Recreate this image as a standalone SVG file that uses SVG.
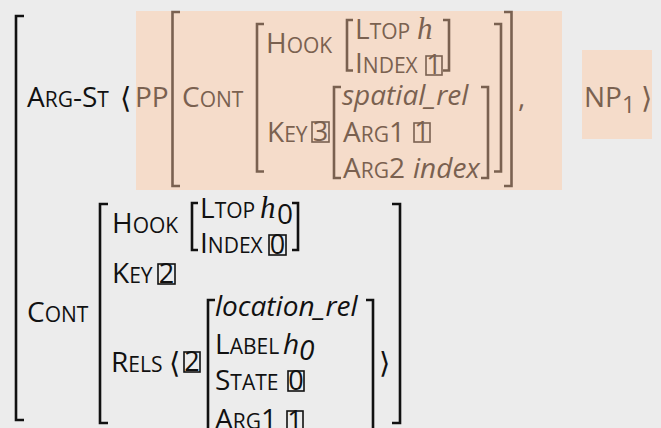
<svg xmlns="http://www.w3.org/2000/svg" width="661" height="428" viewBox="0 0 661 428">
<style>
text{font-family:"Open Sans","Noto Sans",sans-serif;font-size:28px}
.s{font-size:21px}
.it{font-style:italic}
.m{font-family:"Liberation Serif","DejaVu Serif",serif;font-style:italic;font-size:31px}
.ang{font-family:"DejaVu Sans",sans-serif;font-size:29px}
.br{fill:#7a6150}
.bk{fill:#111}
.bb{fill:none;stroke:#7a6150;stroke-width:2.6}
.kb{fill:none;stroke:#111;stroke-width:2.6}
.boxb{fill:none;stroke:#7a6150;stroke-width:1.6}
.boxk{fill:none;stroke:#111;stroke-width:1.6}
text.dg{font-size:27px;text-anchor:middle}
</style>
<rect width="661" height="428" fill="#ececec"/>
<rect x="136" y="11" width="426" height="179" fill="#f5dcca"/>
<rect x="582" y="50" width="70" height="89" fill="#f5dcca"/>

<!-- outer bracket -->
<path class="kb" d="M24,16H16V420H24"/>
<text class="bk" x="27" y="107">A<tspan class="s">RG</tspan>-S<tspan class="s">T</tspan></text>
<text class="ang bk" x="120" y="108">⟨</text>

<!-- top PP -->
<g id="pp">
<text class="br" x="135" y="107">PP</text>
<path class="bb" d="M180,12H172.5V186H180"/>
<path class="bb" d="M504,12H511.5V186H504"/>
<text class="br" x="182" y="107">C<tspan class="s">ONT</tspan></text>
<path class="bb" d="M264,24H257V171.5H264"/>
<path class="bb" d="M494,24H501V171.5H494"/>
<text class="br" x="266" y="53">H<tspan class="s">OOK</tspan></text>
<path class="bb" d="M353,20H347V70.5H353"/>
<path class="bb" d="M443,20H449V70.5H443"/>
<text class="br" x="355" y="39">L<tspan class="s">TOP</tspan></text>
<text class="m br" x="417" y="39">h</text>
<text class="br" x="355" y="73">I<tspan class="s">NDEX</tspan></text>
<rect class="boxb" x="426" y="56" width="16" height="19"/>
<text class="dg br" x="434" y="74">1</text>
<text class="br" x="267" y="142">K<tspan class="s">EY</tspan></text>
<rect class="boxb" x="312" y="122" width="17" height="20"/>
<text class="dg br" x="320.5" y="141">3</text>
<path class="bb" d="M341,87H334V178H341"/>
<path class="bb" d="M481,87H488V178H481"/>
<text class="it br" x="342" y="105">spatial_rel</text>
<text class="br" x="343" y="142">A<tspan class="s">RG</tspan>1</text>
<rect class="boxb" x="414" y="123" width="16" height="19"/>
<text class="dg br" x="422" y="141">1</text>
<text class="br" x="343" y="178">A<tspan class="s">RG</tspan>2</text>
<text class="it br" x="413" y="178">index</text>
<text class="br" x="518" y="107">,</text>
</g>

<g id="np">
<text class="br" x="584" y="107">NP<tspan font-size="23" dy="6">1</tspan></text>
<text class="ang br" x="641" y="108">⟩</text>
</g>

<!-- bottom CONT -->
<g id="cont">
<text class="bk" x="27" y="322">C<tspan class="s">ONT</tspan></text>
<path class="kb" d="M108,204H100V423H108"/>
<path class="kb" d="M392,204H400V423H392"/>
<text class="bk" x="112" y="233">H<tspan class="s">OOK</tspan></text>
<path class="kb" d="M198,203H192V250H198"/>
<path class="kb" d="M292,203H298V250H292"/>
<text class="bk" x="200" y="218">L<tspan class="s">TOP</tspan></text>
<text class="m bk" x="260" y="218">h</text>
<text class="bk" x="277" y="224" font-size="22" font-family="Liberation Serif">0</text>
<text class="bk" x="200" y="253">I<tspan class="s">NDEX</tspan></text>
<rect class="boxk" x="269" y="235" width="17" height="20"/>
<text class="dg bk" x="277.5" y="254">0</text>
<text class="bk" x="112" y="283">K<tspan class="s">EY</tspan></text>
<rect class="boxk" x="158" y="264" width="17" height="20"/>
<text class="dg bk" x="166.5" y="283">2</text>
<text class="bk" x="111" y="372">R<tspan class="s">ELS</tspan></text>
<text class="ang bk" x="169" y="373">⟨</text>
<rect class="boxk" x="184" y="352" width="16" height="20"/>
<text class="dg bk" x="192" y="371">2</text>
<path class="kb" d="M215,300H208V440"/>
<path class="kb" d="M366,300H373V440"/>
<text class="it bk" x="215" y="316">location_rel</text>
<text class="bk" x="215" y="354">L<tspan class="s">ABEL</tspan></text>
<text class="it bk" x="283" y="354">h</text>
<text class="it bk" x="299" y="360" font-size="20">0</text>
<text class="bk" x="215" y="390">S<tspan class="s">TATE</tspan></text>
<rect class="boxk" x="288" y="371" width="16" height="20"/>
<text class="dg bk" x="296" y="390">0</text>
<text class="bk" x="215" y="429">A<tspan class="s">RG</tspan>1</text>
<rect class="boxk" x="287" y="411" width="16" height="20"/>
<text class="dg bk" x="295" y="430">1</text>
<text class="ang bk" x="379" y="373">⟩</text>
</g>
</svg>
